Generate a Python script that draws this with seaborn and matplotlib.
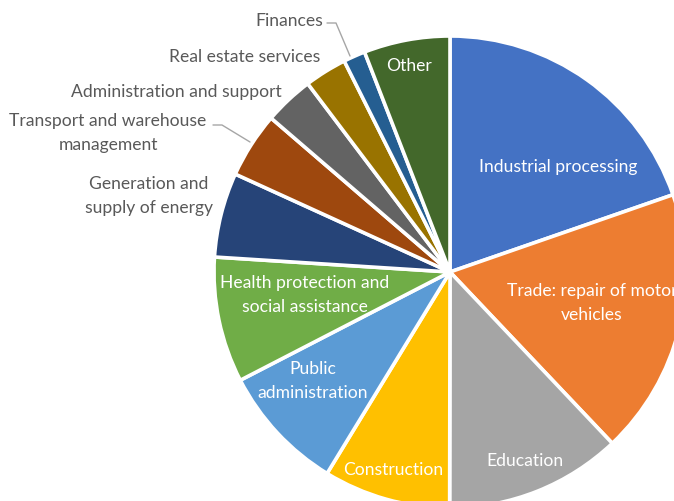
import matplotlib
matplotlib.use("Agg")
import matplotlib.pyplot as plt
import seaborn as sns

# Share of employment by sector (%)
sectors = [
    "Industrial processing",
    "Trade: repair of motor\nvehicles",
    "Education",
    "Construction",
    "Public\nadministration",
    "Health protection and\nsocial assistance",
    "Generation and\nsupply of energy",
    "Transport and warehouse\nmanagement",
    "Administration and support",
    "Real estate services",
    "Finances",
    "Other",
]
shares = [19.7, 18.25, 12.1, 8.7, 8.7, 8.6, 5.8, 4.5, 3.4, 2.9, 1.5, 5.9]
colors = [
    "#4472C4", "#ED7D31", "#A5A5A5", "#FFC000", "#5B9BD5", "#70AD47",
    "#264478", "#9E480E", "#636363", "#997300", "#255E91", "#43682B",
]

sns.set_style("white")
plt.rcParams["font.family"] = ["Lato", "DejaVu Sans"]

W, H = 674, 502
fig = plt.figure(figsize=(W / 100, H / 100), dpi=100)
ax = fig.add_axes([0, 0, 1, 1])

palette = sns.color_palette(colors)
cx, cy, r = 450, H - 273, 236
ax.pie(
    shares,
    colors=palette,
    startangle=90,
    counterclock=False,
    center=(cx, cy),
    radius=r,
    wedgeprops=dict(edgecolor="white", linewidth=2.6),
    frame=True,
)
ax.set_xlim(0, W)
ax.set_ylim(0, H)
ax.set_aspect("equal")
ax.axis("off")

fs = 12.6
white = "white"
grey = "#595959"

def t(x, y, s, color, ha="center"):
    ax.text(x, H - y, s, color=color, fontsize=fs, ha=ha, va="center",
            linespacing=1.55)

# labels inside the wedges
t(409, 66, sectors[11], white)
t(558, 167, sectors[0], white)
t(592, 303, sectors[1], white)
t(525, 461, sectors[2], white)
t(393, 470, sectors[3], white)
t(313, 381, sectors[4], white)
t(305, 295, sectors[5], white)

# labels outside the wedges
t(149, 196, sectors[6], grey)
t(108, 133, sectors[7], grey)
t(176, 92, sectors[8], grey)
t(245, 57, sectors[9], grey)
t(289, 21, sectors[10], grey)

# leader lines
lc = "#A6A6A6"
ax.plot([213, 222, 250], [H - 126, H - 126, H - 143], color=lc, lw=1.0)
ax.plot([327, 336, 350], [H - 24, H - 24, H - 57], color=lc, lw=1.0)

fig.savefig("out.png", dpi=100, facecolor="white")
